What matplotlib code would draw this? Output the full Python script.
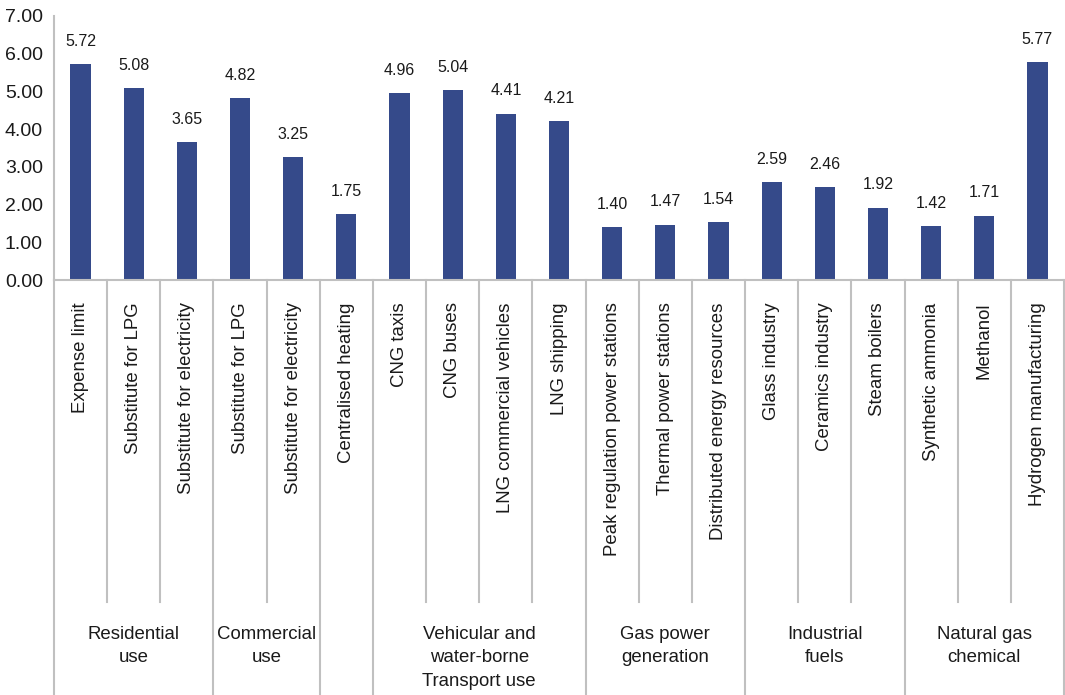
import matplotlib
matplotlib.use("Agg")
import matplotlib.pyplot as plt
from matplotlib.lines import Line2D

plt.rcParams["font.family"] = ["Liberation Sans", "DejaVu Sans"]

# Uses of natural gas and their value
categorias = [
    "Expense limit", "Substitute for LPG", "Substitute for electricity",
    "Substitute for LPG", "Substitute for electricity",
    "Centralised heating",
    "CNG taxis", "CNG buses", "LNG commercial vehicles", "LNG shipping",
    "Peak regulation power stations", "Thermal power stations",
    "Distributed energy resources",
    "Glass industry", "Ceramics industry", "Steam boilers",
    "Synthetic ammonia", "Methanol", "Hydrogen manufacturing",
]
valores = [5.72, 5.08, 3.65, 4.82, 3.25, 1.75, 4.96, 5.04, 4.41, 4.21,
           1.40, 1.47, 1.54, 2.59, 2.46, 1.92, 1.42, 1.71, 5.77]

# Groups: (label, first index, last index)
grupos = [
    ("Residential\nuse", 0, 2),
    ("Commercial\nuse", 3, 4),
    ("", 5, 5),
    ("Vehicular and\nwater-borne\nTransport use", 6, 9),
    ("Gas power\ngeneration", 10, 12),
    ("Industrial\nfuels", 13, 15),
    ("Natural gas\nchemical", 16, 18),
]

color_barra = "#354A8A"
color_linea = "#C0C0C0"
color_texto = "#1a1a1a"

fig = plt.figure(figsize=(10.65, 6.95), dpi=100)
ax = fig.add_axes([54 / 1065, 415 / 695, 1010 / 1065, 264 / 695])

x = list(range(len(valores)))
ax.bar(x, valores, width=0.38, color=color_barra, zorder=2)

for xi, v in zip(x, valores):
    ax.annotate(f"{v:.2f}", (xi, v), xytext=(0, 11), textcoords="offset points",
                ha="center", va="bottom", fontsize=11.5, color=color_texto)

ax.set_xlim(-0.5, len(valores) - 0.5)
ax.set_ylim(0, 7)
ax.set_yticks(range(8))
ax.set_yticklabels([f"{t:.2f}" for t in range(8)], fontsize=14, color=color_texto)
ax.tick_params(axis="y", length=0, pad=8)
ax.tick_params(axis="x", length=0, labelbottom=False)

for lado in ("top", "right"):
    ax.spines[lado].set_visible(False)
for lado in ("left", "bottom"):
    ax.spines[lado].set_color(color_linea)
    ax.spines[lado].set_linewidth(1.5)

trans = ax.get_xaxis_transform()

# Category labels, rotated under each bar
for xi, nombre in zip(x, categorias):
    ax.text(xi, -0.085, nombre, rotation=90, ha="center", va="top",
            fontsize=13.4, color=color_texto, transform=trans)

# Separators: short ones inside groups, long ones at group boundaries
limites = {g[1] - 0.5 for g in grupos} | {grupos[-1][2] + 0.5}
for k in range(len(valores) + 1):
    pos = k - 0.5
    y_fin = -1.6 if pos in limites else -1.22
    ax.add_line(Line2D([pos, pos], [0, y_fin], transform=trans, color=color_linea,
                       linewidth=1.5, clip_on=False))

# Group labels
for nombre, i0, i1 in grupos:
    if nombre:
        ax.text((i0 + i1) / 2, -1.31, nombre, ha="center", va="top",
                fontsize=13.4, color=color_texto, linespacing=1.5, transform=trans)

fig.savefig("out.png", dpi=100)
